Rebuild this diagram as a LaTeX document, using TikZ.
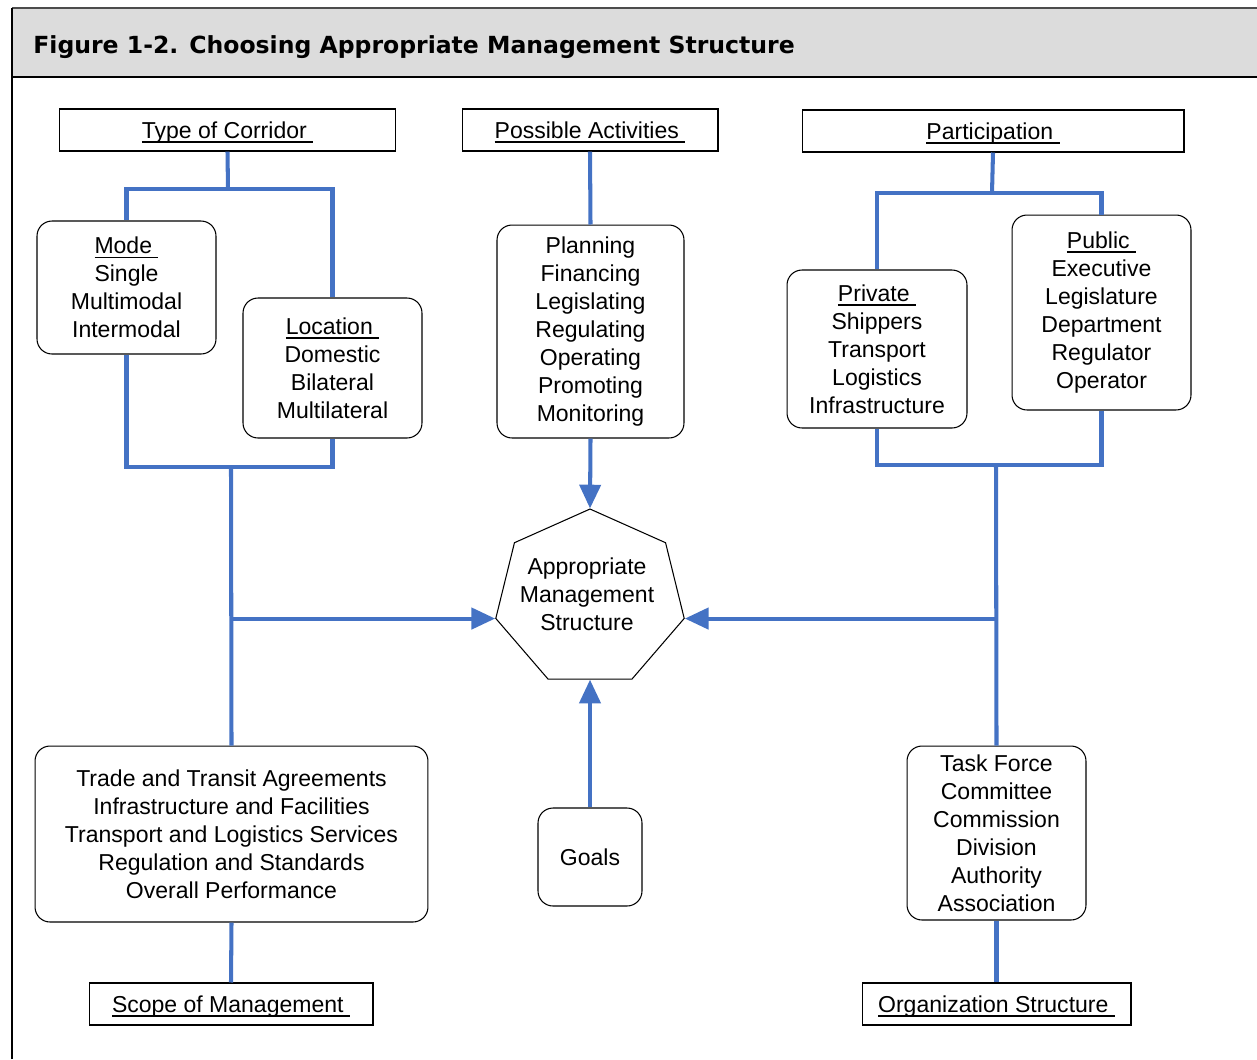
\documentclass[tikz,border=0pt]{standalone}
\usepackage{fontspec}
\setmainfont{Liberation Sans}
\newfontfamily\titlefont{DejaVu Sans}
\usetikzlibrary{arrows.meta,shapes.geometric}
\definecolor{linkblue}{RGB}{68,114,196}
\definecolor{bargray}{RGB}{220,220,220}
%% underlined heading with a trailing blank, as in the original
\newcommand\undl[1]{\setbox0\hbox{#1\ }\rlap{\smash{\rule[-2.4pt]{\wd0}{0.8pt}}}\box0}
\tikzset{
  headbox/.style={draw, line width=0.6pt, inner sep=0pt, minimum height=0.84cm,
    text height=9.5pt, text depth=0pt},
  listbox/.style={draw, line width=0.6pt, rounded corners=0.3cm, align=center, inner sep=0pt},
  link/.style={draw=linkblue, line width=2.3pt},
  linkarrow/.style={link, -{Triangle[width=12pt,length=13.5pt]}},
}
\begin{document}
\begin{tikzpicture}[x=0.02cm, y=-0.02cm, font=\fontsize{13.1}{15.9}\selectfont]
\useasboundingbox (0,0) rectangle (1257,1059);
%%
%% frame and title bar
\fill[bargray] (12,8) rectangle (1257,77);
\draw[line width=1.2pt, black!70] (12,8) -- (1257,8);
\draw[line width=1.2pt] (12,77) -- (1257,77);
\draw[line width=1.2pt] (12,1059) -- (12,8);
\node[anchor=base west, inner sep=0pt, font=\titlefont\bfseries\fontsize{13.4}{16}\selectfont] (title) at (33,53)
  {Figure 1-2. Choosing Appropriate Management Structure};
%%
%% top headings
\node[headbox, minimum width=6.74cm] (corr) at (227.5,130) {\undl{Type of Corridor}};
\node[headbox, minimum width=5.12cm] (act)  at (590,130)   {\undl{Possible Activities}};
\node[headbox, minimum width=7.64cm] (part) at (993,131)   {\undl{Participation}};
%%
%% lists
\node[listbox, minimum width=3.58cm, minimum height=2.66cm] (mode) at (126.5,287.5)
  {\undl{Mode}\\ Single\\ Multimodal\\ Intermodal};
\node[listbox, minimum width=3.58cm, minimum height=2.8cm] (loc) at (332.5,368)
  {\undl{Location}\\ Domestic\\ Bilateral\\ Multilateral};
\node[listbox, minimum width=3.74cm, minimum height=4.26cm] (plan) at (590.5,331.5)
  {Planning\\ Financing\\ Legislating\\ Regulating\\ Operating\\ Promoting\\ Monitoring};
\node[listbox, minimum width=3.6cm, minimum height=3.16cm] (priv) at (877,349)
  {\undl{Private}\\ Shippers\\ Transport\\ Logistics\\ Infrastructure};
\node[listbox, minimum width=3.58cm, minimum height=3.9cm] (pub) at (1101.5,312.5)
  {\undl{Public}\\ Executive\\ Legislature\\ Department\\ Regulator\\ Operator};
%%
%% centre
\node[draw, line width=0.6pt, regular polygon, regular polygon sides=7, inner sep=0pt,
  minimum size=3.58cm, xscale=1.08, transform shape] (ams) at (590,598.5) {};
\node[align=center, inner sep=0pt] (amstext) at (587,594)
  {Appropriate\\ Management\\ Structure};
%%
%% bottom lists
\node[listbox, minimum width=7.86cm, minimum height=3.52cm] (scope) at (231.5,834)
  {Trade and Transit Agreements\\ Infrastructure and Facilities\\ Transport and Logistics Services\\
   Regulation and Standards\\ Overall Performance};
\node[listbox, minimum width=2.08cm, minimum height=1.96cm] (goals) at (590,857) {Goals};
\node[listbox, minimum width=3.58cm, minimum height=3.48cm] (task) at (996.5,833)
  {Task Force\\ Committee\\ Commission\\ Division\\ Authority\\ Association};
\node[headbox, minimum width=5.68cm] (scopem) at (231,1004)   {\undl{Scope of Management}};
\node[headbox, minimum width=5.38cm] (org)    at (996.5,1004) {\undl{Organization Structure}};
%%
%% junctions
\coordinate (cj) at (228,189);
\coordinate (lj) at (231,467);
\coordinate (pj) at (992,193);
\coordinate (rj) at (996,465);
%%
%% connectors
\draw[link] (corr.south) -- (cj);
\draw[link] (mode.north) |- (cj) -| (loc.north);
\draw[link] (mode.south) |- (lj) -| (loc.south);
\draw[link] (lj) -- (scope.north);
\draw[linkarrow] (lj |- ams.corner 3) -- (ams.corner 3);
\draw[link] (act.south) -- (plan.north);
\draw[linkarrow] (plan.south) -- (ams.north);
\draw[linkarrow] (goals.north) -- (ams.south);
\draw[link] (part.south) -- (pj);
\draw[link] (priv.north) |- (pj) -| (pub.north);
\draw[link] (priv.south) |- (rj) -| (pub.south);
\draw[link] (rj) -- (task.north);
\draw[linkarrow] (rj |- ams.corner 6) -- (ams.corner 6);
\draw[link] (scope.south) -- (scopem.north);
\draw[link] (task.south) -- (org.north);
%%
\end{tikzpicture}
\end{document}
